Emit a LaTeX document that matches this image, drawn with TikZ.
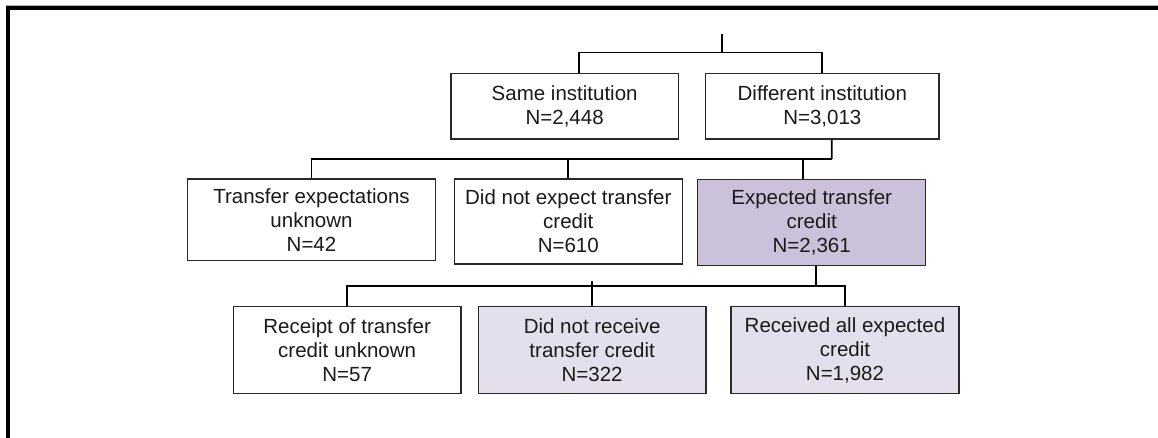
\documentclass[tikz,border=0pt]{standalone}
\usepackage{fontspec}
\setmainfont{Liberation Sans}
\definecolor{boxline}{HTML}{2A2A2A}
\definecolor{txt}{HTML}{1A1A1A}
\definecolor{lavdark}{HTML}{CCC1DA}
\definecolor{lavlight}{HTML}{E4DFEC}
\tikzset{
  treebox/.style={draw=boxline, line width=1.1pt, fill=white, inner sep=0pt,
    align=center, text=txt, font=\fontsize{20.5}{24}\selectfont},
  conn/.style={draw=black, line width=1.8pt, line join=miter},
  frameline/.style={draw=black, line width=4pt, line join=miter}
}
\begin{document}
\begin{tikzpicture}[x=1pt,y=-1pt]
\useasboundingbox (0,0) rectangle (1158,438);
% frame
\draw[gray!60, line width=1pt] (6,5.5) -- (1158,5.5);
\draw[frameline] (8,438) -- (8,8) -- (1158,8);

% level 1
\node[treebox, minimum width=227.3pt, minimum height=65.7pt] (same) at (564.65,106.15) {Same institution\\N=2,448};
\node[treebox, minimum width=233.3pt, minimum height=65.7pt] (diff) at (822.35,106.15) {Different institution\\N=3,013};

% level 2
\node[treebox, minimum width=248.4pt, minimum height=81.7pt] (b1) at (311.5,219.85) {Transfer expectations\\unknown\\N=42};
\node[treebox, minimum width=228pt, minimum height=85pt] (b2) at (568.3,221.5) {Did not expect transfer\\credit\\N=610};
\node[treebox, fill=lavdark, minimum width=228pt, minimum height=86.4pt] (b3) at (811.7,222.5) {Expected transfer\\credit\\N=2,361};

% level 3
\node[treebox, minimum width=227.7pt, minimum height=87pt] (b4) at (347.15,350.2) {Receipt of transfer\\credit unknown\\N=57};
\node[treebox, fill=lavlight, minimum width=227.7pt, minimum height=87pt] (b5) at (592.15,350.2) {Did not receive\\transfer credit\\N=322};
\node[treebox, fill=lavlight, minimum width=228pt, minimum height=87pt] (b6) at (845,350.2) {Received all expected\\credit\\N=1,982};

% connectors
\coordinate (top) at (721.7,34);
\coordinate (bus1) at (721.7,52.5);
\coordinate (bus2) at (831.7,159);
\coordinate (bus3) at (816,285.7);

\draw[conn] (top) -- (bus1);
\draw[conn] ([xshift=14.7pt]same.north) |- (bus1);
\draw[conn] (diff.north) |- (bus1);

\draw[conn] ([xshift=9.35pt]diff.south) -- (bus2);
\draw[conn] (b1.north) |- (bus2);
\draw[conn] (b2.north) |- (bus2);
\draw[conn] ([xshift=-8.4pt]b3.north) |- (bus2);

\draw[conn] ([xshift=4.3pt]b3.south) -- (bus3);
\draw[conn] (b4.north) |- (bus3);
\draw[conn] (b5.north) -- ++(0,-25);
\draw[conn] (b6.north) |- (bus3);
\end{tikzpicture}
\end{document}
